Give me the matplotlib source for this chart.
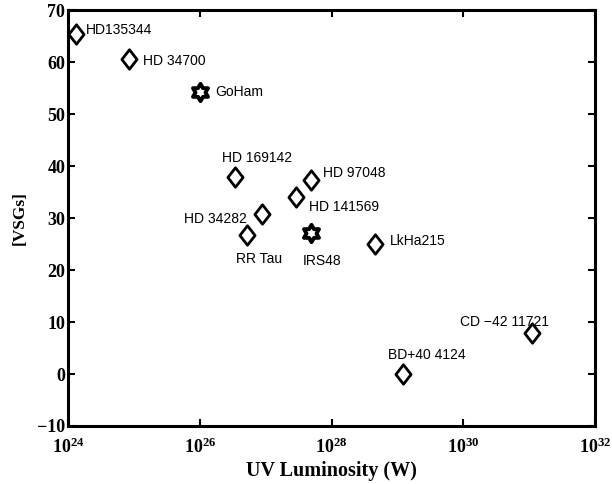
import numpy as np
import matplotlib
matplotlib.use("Agg")
import matplotlib.pyplot as plt
from matplotlib.path import Path
from matplotlib.ticker import FixedLocator, FuncFormatter, NullLocator

plt.rcParams["mathtext.fontset"] = "custom"
plt.rcParams["mathtext.bf"] = "Liberation Serif:bold"
plt.rcParams["mathtext.rm"] = "Liberation Serif:bold"

# Sources shown as diamonds
disk_names = ["HD135344", "HD 34700", "HD 169142", "HD 34282", "RR Tau",
              "HD 141569", "HD 97048", "LkHa215", "BD+40 4124", "CD \u221242 11721"]
disk_lum = [1.3e24, 8.5e24, 3.4e26, 8.7e26, 5.2e26,
            2.9e27, 4.9e27, 4.6e28, 1.2e29, 1.1e31]
disk_vsg = [65.5, 60.7, 38.0, 30.8, 26.7, 34.0, 37.4, 25.1, 0.0, 8.0]

# Sources shown as hexagrams
star_names = ["GoHam", "IRS48"]
star_lum = [1.0e26, 4.9e27]
star_vsg = [54.3, 27.1]

# label offsets (pixels) from each point
disk_offsets = [(10, 4), (14, -2), (-13, 19), (-15, -5), (-11, -24),
                (13, -10), (12, 7), (15, 3), (-15, 19), (-72, 11)]
disk_ha = ["left", "left", "left", "right", "left",
           "left", "left", "left", "left", "left"]
star_offsets = [(16, 0), (-8, -28)]

xticks = [1e24, 1e26, 1e28, 1e30, 1e32]
yticks = [-10, 0, 10, 20, 30, 40, 50, 60, 70]

# marker shapes
diamond = Path([(0, 1), (0.78, 0), (0, -1), (-0.78, 0), (0, 1)],
               [Path.MOVETO, Path.LINETO, Path.LINETO, Path.LINETO, Path.CLOSEPOLY])
ang = np.pi / 2 + np.arange(12) * np.pi / 6
rad = np.where(np.arange(12) % 2 == 0, 1.0, 1 / np.sqrt(3))
hv = np.column_stack([rad * np.cos(ang), rad * np.sin(ang)])
hv = np.vstack([hv, hv[:1]])
hexagram = Path(hv, [Path.MOVETO] + [Path.LINETO] * 11 + [Path.CLOSEPOLY])

fig = plt.figure(figsize=(6.12, 4.84), dpi=100)
ax = fig.add_axes([68 / 612, 1 - 426 / 484, 527 / 612, 415.5 / 484])

ax.plot(disk_lum, disk_vsg, linestyle="none", marker=diamond, markersize=14,
        markerfacecolor="white", markeredgecolor="black", markeredgewidth=2.0)
ax.plot(star_lum, star_vsg, linestyle="none", marker=hexagram, markersize=12.5,
        markerfacecolor="white", markeredgecolor="black", markeredgewidth=2.8)

label_font = dict(family="Liberation Sans", size=10)
for n, x, y, off, ha in zip(disk_names, disk_lum, disk_vsg, disk_offsets, disk_ha):
    ax.annotate(n, (x, y), xytext=off, textcoords="offset pixels",
                ha=ha, va="center", **label_font)
for n, x, y, off in zip(star_names, star_lum, star_vsg, star_offsets):
    ax.annotate(n, (x, y), xytext=off, textcoords="offset pixels",
                ha="left", va="center", **label_font)

ax.set_xscale("log")
ax.set_xlim(1e24, 1e32)
ax.set_ylim(-10, 70)
ax.xaxis.set_major_locator(FixedLocator(xticks))
ax.xaxis.set_minor_locator(NullLocator())
ax.xaxis.set_major_formatter(FuncFormatter(
    lambda v, p: r"$\mathbf{10^{%d}}$" % int(round(np.log10(v)))))
ax.set_yticks(yticks)

ax.tick_params(direction="in", length=5, width=1.5, top=True, right=True,
               labelsize=13)
ax.tick_params(axis="x", pad=8.5)
ax.tick_params(axis="y", pad=2)
for lab in ax.get_yticklabels():
    lab.set_family("Liberation Serif")
    lab.set_weight("bold")
for sp in ax.spines.values():
    sp.set_linewidth(2.2)

ax.set_xlabel("UV Luminosity (W)", family="Liberation Serif", weight="bold",
              size=14.5, labelpad=2.5)
ax.set_ylabel("[VSGs]", family="Liberation Serif", weight="bold",
              size=12.5, labelpad=7)

fig.savefig("out.png", dpi=100)
